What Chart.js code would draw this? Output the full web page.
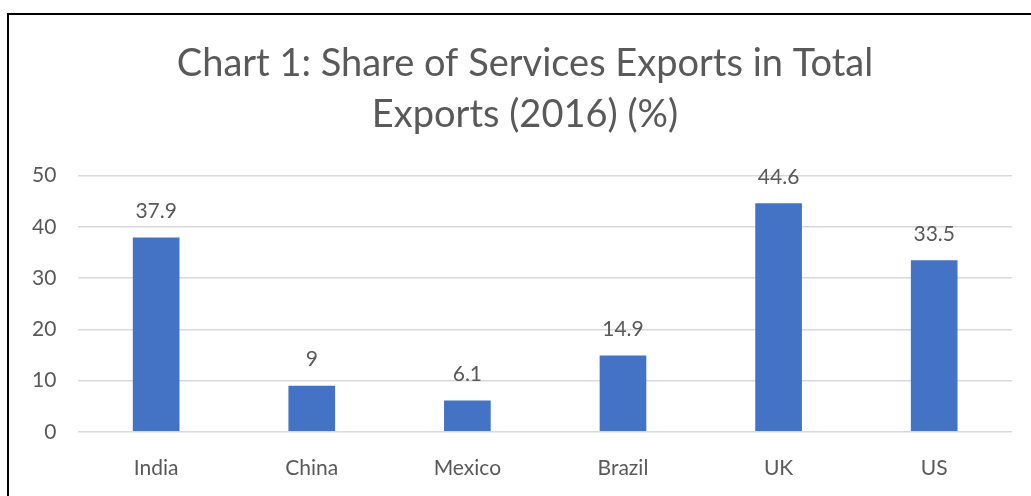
<!DOCTYPE html>
<html>
<head>
<meta charset="utf-8">
<script src="https://cdn.jsdelivr.net/npm/chart.js@4"></script>
<style>
  html, body { margin: 0; padding: 0; background: #fff; }
  #wrap { position: relative; width: 1031px; height: 496px; overflow: hidden; }
  #cadre { position: absolute; left: 7px; top: 13px; width: 1100px; height: 600px;
           border-top: 2px solid #000; border-left: 2px solid #000; pointer-events: none; }
</style>
</head>
<body>
<div id="wrap">
  <canvas id="myChart" width="1031" height="505"></canvas>
  <div id="cadre"></div>
</div>
<script>
var pays    = ['India', 'China', 'Mexico', 'Brazil', 'UK', 'US'];
var parts   = [37.9, 9, 6.1, 14.9, 44.6, 33.5];
var titre   = ['Chart 1: Share of Services Exports in Total', 'Exports (2016) (%)'];
var gris    = '#595959';

// etiquettes au-dessus des barres
var etiquettes = {
    id: 'etiquettes',
    afterDatasetsDraw: function(chart) {
        var ctx = chart.ctx;
        var meta = chart.getDatasetMeta(0);
        ctx.save();
        ctx.font = '21px Lato';
        ctx.fillStyle = gris;
        ctx.textAlign = 'center';
        ctx.textBaseline = 'middle';
        meta.data.forEach(function(barre, i) {
            ctx.fillText(String(parts[i]), barre.x, barre.y - 26);
        });
        ctx.restore();
    }
};

// le titre est un peu decale vers la droite dans l'original
var decalageTitre = {
    id: 'decalageTitre',
    afterLayout: function(chart) {
        if (chart.titleBlock) {
            chart.titleBlock.left += 14;
            chart.titleBlock.right += 14;
        }
    }
};

var canvas  = document.getElementById('myChart');
var context = canvas.getContext('2d');

var myChart = new Chart(context, {
    type: 'bar',
    data: {
        labels: pays,
        datasets: [{
            data: parts,
            backgroundColor: '#4472C4',
            borderWidth: 0,
            categoryPercentage: 1,
            barPercentage: 0.3
        }]
    },
    options: {
        responsive: false,
        animation: false,
        layout: { padding: { left: 10, right: 19, top: 0, bottom: 0 } },
        plugins: {
            legend: { display: false },
            tooltip: { enabled: false },
            title: {
                display: true,
                text: titre,
                color: gris,
                font: { family: 'Lato', size: 38, weight: 'normal', lineHeight: 1.35 },
                padding: { top: 38, bottom: 35 }
            }
        },
        scales: {
            y: {
                min: 0,
                max: 50,
                ticks: { stepSize: 10, color: gris, font: { family: 'Lato', size: 21 }, padding: 22 },
                grid: { color: '#d9d9d9', lineWidth: 1.5, drawTicks: false },
                border: { display: false }
            },
            x: {
                ticks: { color: gris, font: { family: 'Lato', size: 21 }, padding: 24 },
                grid: { display: false, drawTicks: false },
                border: { display: false }
            }
        }
    },
    plugins: [etiquettes, decalageTitre]
});
</script>
</body>
</html>
